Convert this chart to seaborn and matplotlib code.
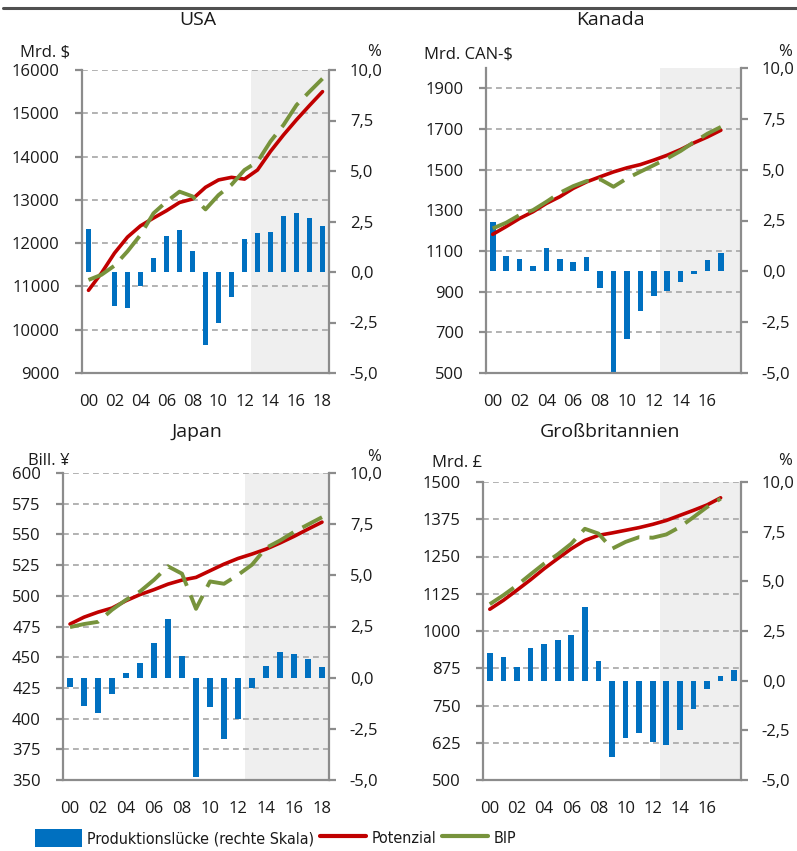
import numpy as np
import pandas as pd
import matplotlib
matplotlib.use("Agg")
import matplotlib.pyplot as plt
import seaborn as sns
from matplotlib.patches import Patch
from matplotlib.lines import Line2D
from matplotlib.font_manager import FontProperties
from matplotlib import font_manager as fm

# ---------------- data ----------------
years = list(range(2000, 2019))
tick_labels = ["00", "02", "04", "06", "08", "10", "12", "14", "16", "18"]

usa_potenzial = [10910, 11310, 11770, 12140, 12400, 12580, 12750, 12940, 13020, 13290,
                 13460, 13520, 13480, 13690, 14120, 14500, 14850, 15180, 15500]
usa_bip = [11150, 11270, 11480, 11810, 12190, 12690, 12960, 13190, 13080, 12780,
           13110, 13350, 13690, 13880, 14350, 14730, 15190, 15500, 15800]
usa_luecke = [2.14, 0.0, -1.66, -1.78, -0.68, 0.69, 1.80, 2.09, 1.02, -3.59,
              -2.52, -1.24, 1.63, 1.93, 1.98, 2.75, 2.92, 2.67, 2.26]

kan_potenzial = [1182, 1220, 1260, 1293, 1334, 1367, 1408, 1440, 1465, 1489,
                 1509, 1525, 1547, 1571, 1599, 1632, 1661, 1694]
kan_bip = [1211, 1239, 1277, 1301, 1342, 1386, 1419, 1444, 1453, 1416,
           1457, 1490, 1522, 1555, 1592, 1636, 1677, 1710]
kan_luecke = [2.41, 0.75, 0.59, 0.28, 1.16, 0.62, 0.46, 0.72, -0.83, -5.08,
              -3.32, -1.95, -1.19, -0.98, -0.51, -0.11, 0.56, 0.90]

jap_potenzial = [477.0, 482.6, 486.7, 490.0, 496.0, 501.0, 505.0, 509.5, 512.8, 515.0,
                 520.4, 525.8, 530.4, 534.0, 538.0, 543.0, 548.4, 554.3, 560.0]
jap_bip = [474.5, 477.0, 478.8, 488.6, 496.7, 503.5, 513.0, 524.0, 518.0, 489.4,
           511.7, 509.8, 517.0, 525.3, 539.0, 545.0, 552.0, 558.0, 564.0]
jap_luecke = [-0.44, -1.37, -1.71, -0.80, 0.24, 0.70, 1.68, 2.87, 1.08, -4.84,
              -1.45, -3.02, -2.02, -0.52, 0.57, 1.24, 1.17, 0.91, 0.54]

gb_potenzial = [1073, 1103, 1137, 1172, 1209, 1243, 1276, 1304, 1321, 1329,
                1338, 1347, 1358, 1371, 1388, 1405, 1423, 1447]
gb_bip = [1090, 1120, 1153, 1190, 1226, 1257, 1293, 1343, 1327, 1276,
          1299, 1315, 1313, 1324, 1349, 1382, 1416, 1444]
gb_luecke = [1.40, 1.20, 0.68, 1.64, 1.86, 2.04, 2.29, 3.72, 0.98, -3.83,
             -2.90, -2.65, -3.09, -3.24, -2.49, -1.41, -0.44, 0.23, 0.52]

# ---------------- style ----------------
sns.set_style("white")
plt.rcParams["font.family"] = ["Open Sans", "DejaVu Sans"]

BLUE = "#0070C0"
RED = "#C00000"
GREEN = "#77933C"
SPINE = "#8c8c8c"
GRID = "#a6a6a6"
SHADE = "#efefef"
TXT = "#1a1a1a"


def _condensed_font():
    def is_cond(f):
        st = f.stretch
        if isinstance(st, str):
            c = st in ("condensed", "semi-condensed", "extra-condensed", "ultra-condensed")
        else:
            c = st < 500
        return (c or "Narrow" in f.name or "Condensed" in f.name) and f.style == "normal" \
            and f.weight in (400, "normal", "regular", "book", "Regular")
    cands = [f for f in fm.fontManager.ttflist if is_cond(f)]
    def rank(f):
        if "Liberation Sans Narrow" in f.name:
            return 0
        if "Noto Sans" in f.name:
            return 1
        if "Open Sans" in f.name:
            return 2
        return 3
    cands.sort(key=rank)
    return cands[0].fname if cands else None


W, H = 797, 851
fig = plt.figure(figsize=(W / 100, H / 100), dpi=100)


def rect(l, r, t, b):
    return [l / W, 1 - b / H, (r - l) / W, (b - t) / H]


panels = [
    dict(title="USA", rect=rect(82, 329, 70, 373), title_xy=(198, 20),
         pot=usa_potenzial, bip=usa_bip, gap=usa_luecke,
         lim=(9000, 16000), ticks=np.arange(9000, 16001, 1000),
         nlab=10, ylab="Mrd. $", ylab_xy=(20, 52), pct_xy=(367, 52)),
    dict(title="Kanada", rect=rect(486, 741, 68, 373), title_xy=(610, 20),
         pot=kan_potenzial, bip=kan_bip, gap=kan_luecke,
         lim=(500, 2000), ticks=np.arange(500, 1901, 200),
         nlab=9, ylab="Mrd. CAN-$", ylab_xy=(424, 55), pct_xy=(778, 52)),
    dict(title="Japan", rect=rect(63, 329, 473, 780), title_xy=(197, 432),
         pot=jap_potenzial, bip=jap_bip, gap=jap_luecke,
         lim=(350, 600), ticks=np.arange(350, 601, 25),
         nlab=10, ylab="Bill. ¥", ylab_xy=(28, 461), pct_xy=(367, 457)),
    dict(title="Großbritannien", rect=rect(483, 741, 482, 780), title_xy=(610, 432),
         pot=gb_potenzial, bip=gb_bip, gap=gb_luecke,
         lim=(500, 1500), ticks=np.arange(500, 1501, 125),
         nlab=9, ylab="Mrd. £", ylab_xy=(432, 463), pct_xy=(778, 461)),
]

RLIM = (-5, 10)
RTICKS = np.arange(-5, 10.01, 2.5)

for p in panels:
    axL = fig.add_axes(p["rect"])
    axR = axL.twinx()
    axL.set_zorder(2)
    axL.patch.set_visible(False)
    axR.set_zorder(1)

    lo, hi = p["lim"]
    axR.axvspan(12.5, 18.5, color=SHADE, zorder=0, lw=0)
    for t in p["ticks"][1:]:
        yr = RLIM[0] + (t - lo) / (hi - lo) * (RLIM[1] - RLIM[0])
        axR.axhline(yr, color=GRID, lw=1.2, ls=(0, (3.5, 2.5)), zorder=0.5)

    dgap = pd.DataFrame({"idx": np.arange(len(p["gap"])), "gap": p["gap"]})
    sns.barplot(data=dgap, x="idx", y="gap", native_scale=True, ax=axR,
                color=BLUE, saturation=1, width=0.42, linewidth=0, zorder=2)

    dpot = pd.DataFrame({"idx": np.arange(len(p["pot"])), "v": p["pot"]})
    dbip = pd.DataFrame({"idx": np.arange(len(p["bip"])), "v": p["bip"]})
    sns.lineplot(data=dpot, x="idx", y="v", ax=axL, color=RED, lw=2.6,
                 solid_capstyle="round")
    sns.lineplot(data=dbip, x="idx", y="v", ax=axL, color=GREEN, lw=2.8,
                 linestyle=(0, (7.5, 2.6)))

    for ax in (axL, axR):
        ax.set_xlabel("")
        ax.set_ylabel("")
        ax.set_xlim(-0.5, 18.5)
        ax.spines["top"].set_visible(False)
        for s in ax.spines.values():
            s.set_color(SPINE)
            s.set_linewidth(1.6)
    axR.spines["left"].set_visible(False)
    axR.spines["bottom"].set_visible(False)
    axL.spines["right"].set_visible(False)

    axL.set_ylim(lo, hi)
    axL.set_yticks(p["ticks"])
    axL.set_yticklabels([f"{int(t)}" for t in p["ticks"]])
    axL.tick_params(axis="y", length=5, width=1.6, color=SPINE, pad=11,
                    labelsize=12, labelcolor=TXT, direction="out")

    axR.set_ylim(*RLIM)
    axR.set_yticks(RTICKS)
    axR.set_yticklabels([f"{t:.1f}".replace(".", ",") for t in RTICKS])
    axR.tick_params(axis="y", length=5, width=1.6, color=SPINE, pad=10,
                    labelsize=12, labelcolor=TXT, direction="out")

    axL.set_xticks(np.arange(0, p["nlab"] * 2, 2))
    axL.set_xticklabels(tick_labels[:p["nlab"]])
    axL.set_xticks(np.arange(-0.5, 18.6, 1), minor=True)
    axL.tick_params(axis="x", which="major", length=0, pad=15, labelsize=12,
                    labelcolor=TXT)
    axL.tick_params(axis="x", which="minor", length=5, width=1.6, color=SPINE,
                    direction="out")
    axL.grid(False)
    axR.grid(False)

    fig.text(p["title_xy"][0] / W, 1 - p["title_xy"][1] / H, p["title"],
             ha="center", va="center", fontsize=14, color=TXT)
    fig.text(p["ylab_xy"][0] / W, 1 - p["ylab_xy"][1] / H, p["ylab"],
             ha="left", va="center", fontsize=12, color=TXT)
    fig.text(p["pct_xy"][0] / W, 1 - p["pct_xy"][1] / H, "%",
             ha="left", va="center", fontsize=12, color=TXT)

# top rule
fig.add_artist(Line2D([3 / W, 1.0], [1 - 8 / H, 1 - 8 / H], color="#505050", lw=2.2))

# legend
cfont = _condensed_font()
if cfont:
    lprop = FontProperties(fname=cfont, size=11.5)
else:
    lprop = FontProperties(family=["Open Sans", "DejaVu Sans"], size=10.5)
handles = [Patch(facecolor=BLUE, edgecolor="none"),
           Line2D([], [], color=RED, lw=3),
           Line2D([], [], color=GREEN, lw=3)]
labels = ["Produktionslücke (rechte Skala)", "Potenzial", "BIP"]
fig.legend(handles, labels, loc="center left", bbox_to_anchor=(24 / W, 1 - 838 / H),
           ncol=3, frameon=False, prop=lprop,
           handlelength=2.9, handleheight=1.3, handletextpad=0.35,
           columnspacing=0.35, labelcolor=TXT, borderpad=0.2)

fig.savefig("out.png", dpi=100)
